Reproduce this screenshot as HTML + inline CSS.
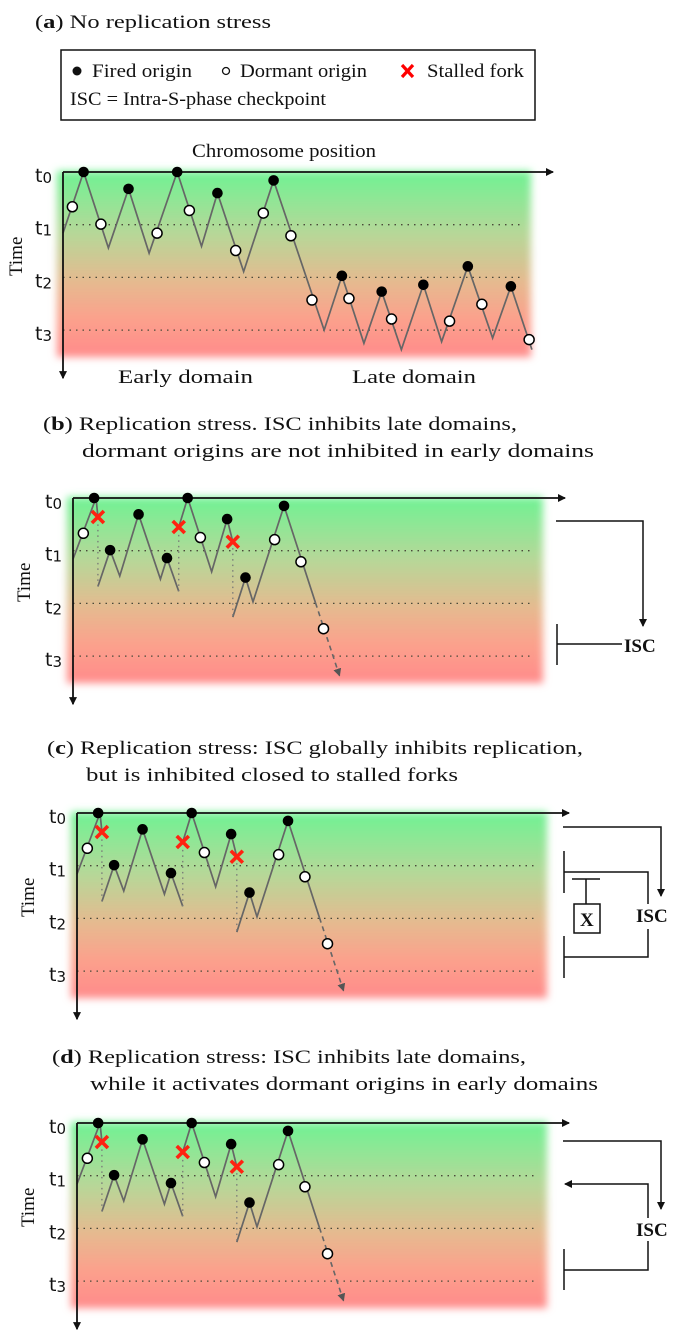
<!DOCTYPE html>
<html><head><meta charset="utf-8"><style>
html,body{margin:0;padding:0;background:#fff;}
svg{display:block;}
.ttl{font-family:"Liberation Serif",serif;font-size:19px;fill:#111;}
.tl{font-family:"DejaVu Sans",sans-serif;fill:#111;}
</style></head><body>
<svg id="fig" width="687" height="1341" viewBox="0 0 687 1341" xmlns="http://www.w3.org/2000/svg">
<defs>
<linearGradient id="grad" x1="0" y1="0" x2="0" y2="1">
<stop offset="0" stop-color="#6ff293"/>
<stop offset="0.33" stop-color="#b5d898"/>
<stop offset="0.6" stop-color="#e6b98f"/>
<stop offset="0.8" stop-color="#fca08c"/>
<stop offset="1" stop-color="#ff8a8a"/>
</linearGradient>
<filter id="blur" x="-10%" y="-10%" width="120%" height="120%"><feGaussianBlur stdDeviation="4"/></filter>
<marker id="ah" markerWidth="8" markerHeight="8" refX="7" refY="4" orient="auto" markerUnits="userSpaceOnUse"><path d="M0,0 L8,4 L0,8 z" fill="#111"/></marker>
<marker id="ahg" markerWidth="8" markerHeight="8" refX="7" refY="4" orient="auto" markerUnits="userSpaceOnUse"><path d="M0,0 L8,4 L0,8 z" fill="#555"/></marker>
</defs>

<text class="ttl" x="35" y="28" textLength="236" lengthAdjust="spacingAndGlyphs">(<tspan font-weight="bold">a</tspan>) No replication stress</text>
<g>
<rect x="61" y="50" width="474" height="70" fill="#fff" stroke="#111" stroke-width="1.5"/>
<circle cx="77" cy="71" r="4.5" fill="#111"/>
<text class="ttl" x="92" y="77" font-size="19" textLength="100" lengthAdjust="spacingAndGlyphs">Fired origin</text>
<circle cx="226" cy="71" r="3.5" fill="#fff" stroke="#111" stroke-width="1.3"/>
<text class="ttl" x="240" y="77" font-size="19" textLength="127" lengthAdjust="spacingAndGlyphs">Dormant origin</text>
<path d="M402,65 L413,77 M413,65 L402,77" stroke="#f00" stroke-width="3.2"/>
<text class="ttl" x="427" y="77" font-size="19" textLength="97" lengthAdjust="spacingAndGlyphs">Stalled fork</text>
<text class="ttl" x="70" y="105" font-size="19" textLength="256" lengthAdjust="spacingAndGlyphs">ISC = Intra-S-phase checkpoint</text>
</g>
<text class="ttl" x="192" y="157" font-size="17" textLength="184" lengthAdjust="spacingAndGlyphs">Chromosome position</text>

<text class="ttl" x="43" y="430" textLength="474" lengthAdjust="spacingAndGlyphs">(<tspan font-weight="bold">b</tspan>) Replication stress. ISC inhibits late domains,</text>
<text class="ttl" x="82" y="457" textLength="512" lengthAdjust="spacingAndGlyphs">dormant origins  are not inhibited in early domains</text>
<text class="ttl" x="47" y="754" textLength="536" lengthAdjust="spacingAndGlyphs">(<tspan font-weight="bold">c</tspan>) Replication stress: ISC globally inhibits replication,</text>
<text class="ttl" x="86" y="781" textLength="372" lengthAdjust="spacingAndGlyphs">but is inhibited closed to stalled forks</text>
<text class="ttl" x="52" y="1063" textLength="474" lengthAdjust="spacingAndGlyphs">(<tspan font-weight="bold">d</tspan>) Replication stress: ISC inhibits late domains,</text>
<text class="ttl" x="90" y="1090" textLength="508" lengthAdjust="spacingAndGlyphs">while it activates dormant origins in early domains</text>

<g id="layer"></g>

<g stroke="#111" stroke-width="1.5" fill="none">
<polyline points="556,521 643,521 643,626" marker-end="url(#ah)"/>
<line x1="557" y1="624" x2="557" y2="665"/>
<line x1="557" y1="644" x2="622" y2="644"/>
</g>
<text class="ttl" x="624" y="652" font-weight="bold" font-size="19">ISC</text>

<g stroke="#111" stroke-width="1.5" fill="none">
<polyline points="563,827 661,827 661,896" marker-end="url(#ah)"/>
<line x1="564" y1="851" x2="564" y2="893"/>
<polyline points="564,872 648,872 648,904"/>
<polyline points="648,929 648,957 564,957"/>
<line x1="564" y1="936" x2="564" y2="978"/>
<line x1="572" y1="879" x2="600" y2="879"/>
<line x1="586" y1="879" x2="586" y2="904"/>
<rect x="574" y="904" width="26" height="29"/>
</g>
<text class="ttl" x="580" y="926" font-weight="bold" font-size="19" font-family="Liberation Sans, sans-serif">X</text>
<text class="ttl" x="636" y="922" font-weight="bold" font-size="19">ISC</text>

<g stroke="#111" stroke-width="1.5" fill="none">
<polyline points="563,1141 661,1141 661,1209" marker-end="url(#ah)"/>
<polyline points="648,1218 648,1184 565,1184" marker-end="url(#ah)"/>
<polyline points="648,1241 648,1270 564,1270"/>
<line x1="564" y1="1249" x2="564" y2="1290"/>
</g>
<text class="ttl" x="636" y="1236" font-weight="bold" font-size="19">ISC</text>

<text class="ttl" x="118" y="383" font-size="19" textLength="135" lengthAdjust="spacingAndGlyphs">Early domain</text>
<text class="ttl" x="352" y="383" font-size="19" textLength="124" lengthAdjust="spacingAndGlyphs">Late domain</text>
</svg>

<script>
const aLine = [[0,1.16],[4.4,0],[9.7,1.44],[14.0,0.32],[18.4,1.54],[24.4,0],[29.6,1.41],[33.0,0.40],[38.6,1.89],[45.0,0.16],[55.8,3.0],[59.6,1.97],[64.3,3.25],[68.1,2.27],[72.3,3.37],[77.0,2.14],[80.9,3.22],[86.5,1.79],[91.8,3.15],[95.7,2.17],[100.2,3.37]];
const aFired = [[4.4,0],[14.0,0.32],[24.4,0],[33.0,0.40],[45.0,0.16],[59.6,1.97],[68.1,2.27],[77.0,2.14],[86.5,1.79],[95.7,2.17]];
const aDormant = [[2.0,0.66],[8.1,0.99],[20.1,1.16],[27.0,0.73],[36.9,1.49],[42.8,0.78],[48.7,1.21],[53.2,2.43],[61.1,2.40],[70.2,2.79],[82.6,2.83],[89.5,2.51],[99.6,3.18]];
const sSegments = [
  [[0,1.16],[4.9,0],[5.3,0.36]],
  [[5.3,1.68],[7.9,0.99],[9.95,1.48],[13.95,0.31],[18.6,1.54],[20.0,1.14],[22.5,1.77]],
  [[22.5,0.55],[24.4,0],[29.5,1.40],[32.8,0.40],[34.0,0.83]],
  [[34.0,2.26],[36.7,1.51],[38.3,1.97],[44.9,0.15],[51.6,1.99]]
];
const sDashed = [[51.6,1.99],[56.7,3.37]];
const sStallDrops = [[5.3,0.5,1.68],[22.5,0.7,1.77],[34.0,0.95,2.26]];
const sFired = [[4.5,0],[7.9,0.99],[13.95,0.31],[20.0,1.14],[24.4,0],[32.8,0.40],[36.7,1.51],[44.9,0.15]];
const sDormant = [[2.2,0.67],[27.1,0.75],[42.9,0.79],[48.5,1.21],[53.3,2.48]];
const sStalls = [[5.3,0.36],[22.5,0.55],[34.0,0.83]];
const tLabels = ["0","1","2","3"];

const NS = "http://www.w3.org/2000/svg";
const layer = document.getElementById("layer");
function mk(tag, attrs, parent){
  const e = document.createElementNS(NS, tag);
  for (const k in attrs) e.setAttribute(k, attrs[k]);
  (parent||layer).appendChild(e);
  return e;
}

function panel(id, ax, t0, W, step, timeX, line, fired, dormant, stalls, drops, dashed, segs){
  const X = u => ax + u * W / 100;
  const Y = v => t0 + v * step;
  const g = mk("g", {});
  
  
  const bg = mk("rect", {x: ax - 6, y: t0 - 1, width: W + 6, height: step * 3 + 28, fill: "url(#grad)", filter: "url(#blur)"}, g);
  
  
  for (let i = 1; i <= 3; i++) {
    const dl = mk("line", {x1: ax, x2: ax + W - 10, y1: Y(i), y2: Y(i), stroke: "#4a4a3a", "stroke-width": 1.3, "stroke-dasharray": "1.5,5"}, g);
    
    
  }
  for (let i = 0; i < tLabels.length; i++) {
    const tx = mk("text", {x: ax - 28, y: Y(i) + 10, class: "tl", "font-size": 19}, g);
    
    
    tx.textContent = "t";
    const ts = mk("tspan", {"font-size": 15, dy: 1}, tx);
    ts.textContent = tLabels[i];
  }
  const tm = mk("text", {x: 0, y: 0, class: "ttl", "font-size": 17, "text-anchor": "middle", transform: "translate(" + (timeX + 5) + "," + Y(1.6) + ") rotate(-90)"}, g);
  
  
  tm.textContent = "Time";
  const lw = {stroke: "#666", "stroke-width": 1.7, fill: "none"};
  if (line) {
    const p = mk("polyline", Object.assign({points: line.map(d => X(d[0]) + "," + Y(d[1])).join(" ")}, lw), g);
    
    
  }
  if (segs) {
    segs.forEach((s, i) => {
      const p = mk("polyline", Object.assign({points: s.map(d => X(d[0]) + "," + Y(d[1])).join(" ")}, lw), g);
      
      
    });
  }
  if (drops) {
    drops.forEach(d => {
      const l = mk("line", {x1: X(d[0]), x2: X(d[0]), y1: Y(d[1]), y2: Y(d[2]), stroke: "#777", "stroke-width": 1.3, "stroke-dasharray": "1.5,4"}, g);
      
      
    });
  }
  if (dashed) {
    const l = mk("line", {x1: X(dashed[0][0]), y1: Y(dashed[0][1]), x2: X(dashed[1][0]), y2: Y(dashed[1][1]), stroke: "#666", "stroke-width": 1.6, "stroke-dasharray": "5,4", "marker-end": "url(#ahg)"}, g);
    
    
  }
  const xa = mk("line", {x1: ax, y1: t0, x2: ax + W + 22, y2: t0, stroke: "#111", "stroke-width": 1.8, "marker-end": "url(#ah)"}, g);
  
  
  const ya = mk("line", {x1: ax, y1: t0, x2: ax, y2: Y(3) + 48, stroke: "#111", "stroke-width": 1.8, "marker-end": "url(#ah)"}, g);
  
  
  fired.forEach(d => {
    const c = mk("circle", {cx: X(d[0]), cy: Y(d[1]), r: 5.3, fill: "#000"}, g);
    
    
  });
  dormant.forEach(d => {
    const c = mk("circle", {cx: X(d[0]), cy: Y(d[1]), r: 5, fill: "#fff", stroke: "#000", "stroke-width": 1.5}, g);
    
    
  });
  (stalls || []).forEach(d => {
    const cx = X(d[0]), cy = Y(d[1]);
    const p = mk("path", {d: "M" + (cx - 6) + "," + (cy - 6) + " L" + (cx + 6) + "," + (cy + 6) + " M" + (cx + 6) + "," + (cy - 6) + " L" + (cx - 6) + "," + (cy + 6), stroke: "#f21", "stroke-width": 3.6, fill: "none"}, g);
    
    
  });
}

panel("a", 63, 172, 468, 52.7, 17, aLine, aFired, aDormant, null, null, null, null);
panel("b", 73, 498, 470, 52.7, 25, null, sFired, sDormant, sStalls, sStallDrops, sDashed, sSegments);
panel("c", 77, 813, 470, 52.7, 29, null, sFired, sDormant, sStalls, sStallDrops, sDashed, sSegments);
panel("d", 77, 1123, 470, 52.7, 29, null, sFired, sDormant, sStalls, sStallDrops, sDashed, sSegments);
</script>
</body></html>
